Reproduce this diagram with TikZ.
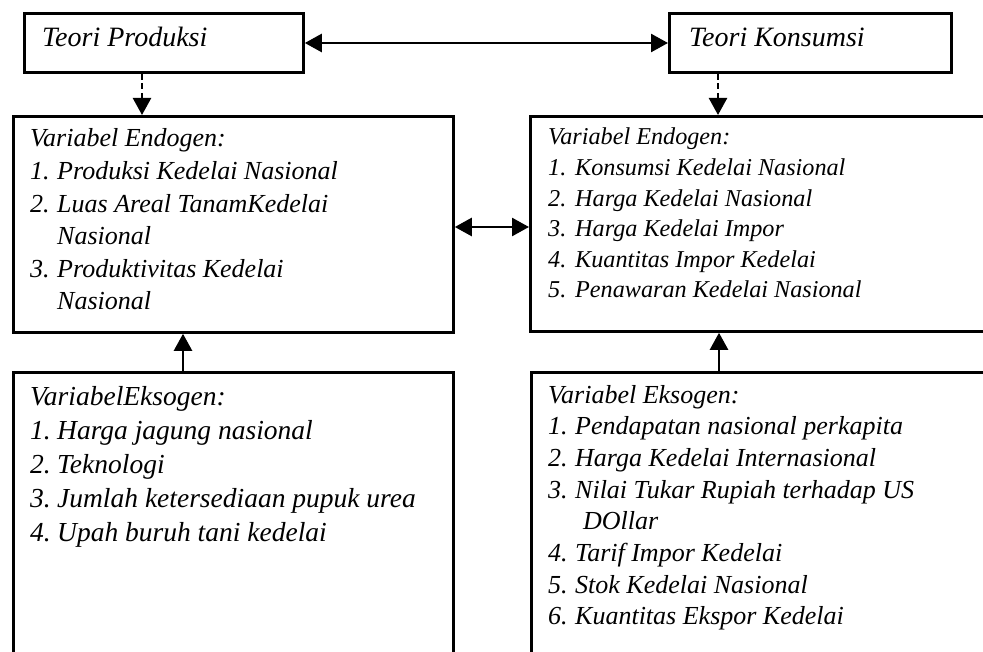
\documentclass[tikz,border=0pt]{standalone}
\usepackage{fontspec}
\setmainfont{Liberation Serif}
\usetikzlibrary{arrows.meta}
\newcommand\nm[1]{\makebox[27pt][l]{#1}}
\newcommand\ind{\hspace*{27pt}}
\begin{document}
\begin{tikzpicture}[x=1pt,y=-1pt,
  box/.style={draw, line width=2.8pt, anchor=north west, inner sep=0pt},
  txt/.style={anchor=base west, inner sep=0pt},
  tip/.tip={Triangle[length=17pt,width=18pt]},
  conn/.style={line width=2.4pt, -tip},
  dconn/.style={conn, dash pattern=on 6pt off 3.5pt},
  both/.style={line width=2.6pt, tip-tip}]
\useasboundingbox (0,0) rectangle (983,652);
\clip (0,0) rectangle (983,652);
% boxes
\node[box, minimum width=279pt, minimum height=59pt] (tp) at (23,12) {};
\node[box, minimum width=282pt, minimum height=59pt] (tk) at (668,12) {};
\node[box, minimum width=440pt, minimum height=216pt] (enL) at (12,115) {};
\node[box, minimum width=466pt, minimum height=215pt] (enR) at (529,115) {};
\node[box, minimum width=440pt, minimum height=300pt] (exL) at (12,371) {};
\node[box, minimum width=466pt, minimum height=300pt] (exR) at (530,371) {};
% texts
\node[txt] (tpt) at (42,47) {\fontsize{28}{30}\selectfont\itshape Teori Produksi};
\node[txt] (tkt) at (689,47) {\fontsize{28}{30}\selectfont\itshape Teori Konsumsi};
\node[txt] (enLt) at (30,147) {\parbox[t]{410pt}{\fontsize{26}{32.6}\selectfont\itshape
Variabel Endogen:\\
\nm{1.}Produksi Kedelai Nasional\\
\nm{2.}Luas Areal TanamKedelai\\
\ind Nasional\\
\nm{3.}Produktivitas Kedelai\\
\ind Nasional}};
\node[txt] (enRt) at (548,145) {\parbox[t]{420pt}{\fontsize{24.2}{30.6}\selectfont\itshape
Variabel Endogen:\\
\nm{1.}Konsumsi Kedelai Nasional\\
\nm{2.}Harga Kedelai Nasional\\
\nm{3.}Harga Kedelai Impor\\
\nm{4.}Kuantitas Impor Kedelai\\
\nm{5.}Penawaran Kedelai Nasional}};
\node[txt] (exLt) at (30,405) {\parbox[t]{415pt}{\fontsize{27.5}{34.25}\selectfont\itshape
VariabelEksogen:\\
\nm{1.}Harga jagung nasional\\
\nm{2.}Teknologi\\
\nm{3.}Jumlah ketersediaan pupuk urea\\
\nm{4.}Upah buruh tani kedelai}};
\node[txt] (exRt) at (548,403) {\parbox[t]{425pt}{\fontsize{26}{31.7}\selectfont\itshape
Variabel Eksogen:\\
\nm{1.}Pendapatan nasional perkapita\\
\nm{2.}Harga Kedelai Internasional\\
\nm{3.}Nilai Tukar Rupiah terhadap US\\
\hspace*{35pt}DOllar\\
\nm{4.}Tarif Impor Kedelai\\
\nm{5.}Stok Kedelai Nasional\\
\nm{6.}Kuantitas Ekspor Kedelai}};
% connectors
\coordinate (mL) at (452,227);
\coordinate (mR) at (529,227);
\coordinate (tL) at (302,43);
\coordinate (tR) at (668,43);
\draw[both] (tp.east |- tL) -- (tk.west |- tR);
\draw[dconn] ([xshift=119pt]tp.south west) -- ([xshift=130pt]enL.north west);
\draw[dconn] ([xshift=50pt]tk.south west) -- ([xshift=189pt]enR.north west);
\draw[both] (enL.east |- mL) -- (enR.west |- mR);
\draw[conn] ([xshift=171pt]exL.north west) -- ([xshift=171pt]enL.south west);
\draw[conn] ([xshift=189pt]exR.north west) -- ([xshift=190pt]enR.south west);
\end{tikzpicture}
\end{document}
